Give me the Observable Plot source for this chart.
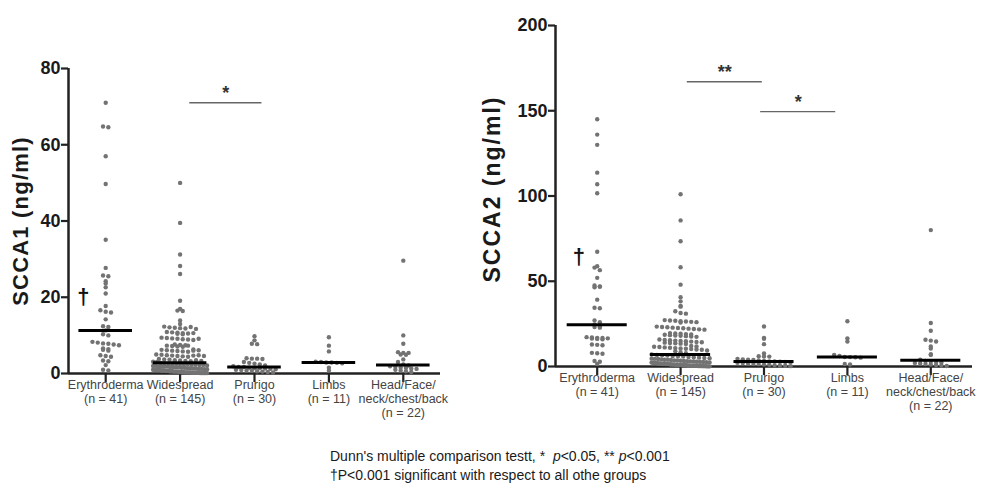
<!DOCTYPE html>
<html><head><meta charset="utf-8">
<script src="https://cdn.jsdelivr.net/npm/d3@7"></script>
<script src="https://cdn.jsdelivr.net/npm/@observablehq/plot@0.6"></script>
<style>
html,body{margin:0;padding:0;background:#fff;}
#wrap{position:relative;width:1002px;height:499px;overflow:hidden;font-family:"Liberation Sans",Arial,sans-serif;}
#left{position:absolute;left:0;top:0;width:460px;}
#right{position:absolute;left:470px;top:0;width:532px;}
#note{position:absolute;left:330px;top:447px;font-size:14px;line-height:19px;color:#1a1a1a;white-space:nowrap;}
#wrap svg g[aria-label^="y-axis"] text{font-family:"Liberation Sans",Arial,sans-serif;font-weight:bold;font-size:18px;fill:#1a1a1a;}
#wrap svg g[aria-label^="y-axis"] line,#wrap svg g[aria-label^="y-axis"] path,
#wrap svg g[aria-label^="x-axis"] line,#wrap svg g[aria-label^="x-axis"] path{stroke-width:2.2px;stroke:#222;}
</style>
</head><body>
<div id="wrap">
  <div id="left"></div>
  <div id="right"></div>
  <div id="note">Dunn's multiple comparison testt, *&nbsp;&nbsp;<i>p</i>&lt;0.05, ** <i>p</i>&lt;0.001<br>†P&lt;0.001 significant with respect to all othe groups</div>
</div>
<script>
// ---------- categories ----------
const categories = ["Erythroderma", "Widespread", "Prurigo", "Limbs", "Head/Face/\nneck/chest/back"];
const groupN = [41, 145, 30, 11, 22];
const yTicks1 = [0, 20, 40, 60, 80];
const yTicks2 = [0, 50, 100, 150, 200];

// ---------- SCCA1 (ng/ml) ----------
const scca1Erythroderma = [71, 64.8, 64.6, 57, 49.7, 35.1, 27.7, 25.7, 25.5, 24.2, 23.6, 22.6, 21.0, 17.7, 16.6, 16.2, 16.0, 14.2, 12.4, 12.2,
  11.3,
  10.3, 10.0, 8.3, 8.1, 7.9, 7.8, 7.6, 7.4, 6.6, 6.4, 6.2, 6.0, 4.8, 4.6, 4.4, 3.4, 3.2, 2.2, 1.0, 0.8];
const scca1Widespread = [50.0, 39.5, 31.2, 28.2, 26.1, 19.1, 16.9, 16.5, 16.4, 13.9, 13.0,
  12.3, 12.1, 12.0, 11.9, 11.8, 12.2, 11.7,
  10.9, 10.8, 10.7, 10.6, 10.5, 10.4, 10.3, 10.6,
  9.4, 9.3, 9.2, 9.1, 9.0, 8.9, 8.8, 9.1,
  7.6, 7.5, 7.4, 7.3, 7.2, 7.1, 7.0, 7.3,
  6.3, 6.2, 6.1, 6.0, 5.9, 5.8, 5.7, 6.0, 6.1,
  5.0, 4.9, 4.8, 4.7, 4.6, 4.5, 4.4, 4.7, 4.8, 4.6,
  3.8, 3.7, 3.6, 3.5, 3.4, 3.3, 3.2, 3.1, 3.0, 3.5, 3.3,
  2.8,
  2.7, 2.6, 2.6, 2.5, 2.5, 2.4, 2.4, 2.3, 2.3, 2.2, 2.2, 2.1,
  2.0, 2.0, 1.9, 1.9, 1.8, 1.8, 1.7, 1.7, 1.6, 1.6, 1.5, 1.5,
  1.4, 1.4, 1.3, 1.3, 1.2, 1.2, 1.1, 1.1, 1.0, 1.0, 1.0, 0.9,
  0.9, 0.9, 0.8, 0.8, 0.8, 0.7, 0.7, 0.7, 0.6, 0.6, 0.6, 0.5,
  0.5, 0.5, 0.5, 0.4, 0.4, 0.4, 0.4, 0.3, 0.3, 0.3, 0.3, 0.3,
  0.2, 0.2, 0.2, 0.2, 0.2, 0.2, 0.1, 0.1, 0.1, 0.1, 0.1, 0.1];
const scca1Prurigo = [9.8, 8.7, 7.8, 7.7, 4.0, 3.9, 3.9, 3.8, 3.0, 2.8, 2.6, 2.4, 2.1, 1.9,
  1.7, 1.7,
  1.5, 1.4, 1.4, 1.3, 1.2, 1.1, 1.0, 0.9, 0.8, 0.7, 0.6, 0.5, 0.4, 0.3];
const scca1Limbs = [9.5, 7.3, 5.8, 3.1, 3.0, 2.9, 2.9, 2.8, 2.7, 1.5, 0.8];
const scca1Head = [29.6, 10.0, 7.8, 5.6, 5.4, 5.4, 5.0, 4.9, 3.7, 3.0, 2.4, 2.1, 1.9, 1.8, 1.6, 1.5, 1.3, 1.2, 1.0, 0.8, 0.6, 0.4];

// ---------- SCCA2 (ng/ml) ----------
const scca2Erythroderma = [145, 136, 130, 113.7, 106.9, 101.6, 67.3, 58.8, 58.0, 56.5, 52, 47.5, 47, 46.5, 46.8, 39.2, 34.5, 34.2, 27, 26,
  24.5,
  23.5, 23.2, 22.8, 17.2, 17, 16.8, 16.7, 16.5, 16.4, 16.2, 16.0, 12.9, 12.7, 12.5, 8.0, 7.8, 7.5, 3.2, 2.8, 1.5];
const scca2Widespread = [101, 85.7, 73.5, 58.2, 48, 40.6, 38.2, 35.5, 35.1, 32.4, 31.4, 31.0,
  27.2, 27, 26.8, 26.6, 26.4, 26.2, 26, 25.8,
  23.4, 23.2, 23, 22.8, 22.6, 22.4, 22.2, 22, 21.8, 21.6,
  19.6, 19.4, 19.2, 19, 18.8, 18.6, 18.4, 18.2, 18, 17.8, 17.6, 17.4,
  15.8, 15.6, 15.4, 15.2, 15, 14.8, 14.6, 14.4, 14.2, 14, 13.8, 13.6, 13.4, 13.2,
  12.0, 11.8, 11.6, 11.4, 11.2, 11, 10.8, 10.6, 10.4, 10.2, 10, 9.8, 9.4, 9, 8.4, 7.8,
  7.0,
  6.8, 6.6, 6.4, 6.2, 6.0, 5.8, 5.6, 5.4, 5.2, 5.0, 4.8, 4.6,
  4.5, 4.4, 4.2, 4.0, 3.9, 3.8, 3.6, 3.5, 3.4, 3.2, 3.1, 3.0,
  2.9, 2.8, 2.7, 2.6, 2.5, 2.4, 2.3, 2.2, 2.1, 2.0, 1.9, 1.8,
  1.8, 1.7, 1.6, 1.6, 1.5, 1.4, 1.4, 1.3, 1.2, 1.2, 1.1, 1.0,
  1.0, 0.9, 0.9, 0.8, 0.8, 0.7, 0.7, 0.6, 0.6, 0.5, 0.5, 0.5,
  0.4, 0.4, 0.4, 0.3, 0.3, 0.3, 0.2, 0.2, 0.2, 0.1, 0.1, 0.1];
const scca2Prurigo = [23.5, 16.8, 16.3, 13.1, 7.6, 6.0, 5.9, 5.8, 4.5, 4.2, 4.0, 3.8, 3.6, 3.3,
  3.0, 3.0,
  2.8, 2.6, 2.4, 2.2, 2.0, 1.8, 1.6, 1.4, 1.2, 1.0, 0.8, 0.6, 0.4, 0.2];
const scca2Limbs = [26.5, 16.5, 14.7, 6.8, 6.2, 5.6, 5.5, 5.4, 5.2, 1.5, 1.2];
const scca2Head = [80, 25.5, 21, 15.7, 15.2, 14.7, 11.8, 10.6, 7.2, 6.8, 4.0, 3.2, 3.0, 2.7, 2.4, 2.1, 1.8, 1.5, 1.2, 0.9, 0.6, 0.3];

// significance annotations (group index span, height in data units)
const sig1 = [{from: 1.13, to: 2.1, y: 71, label: "*"}];
const sig2 = [{from: 1.08, to: 1.98, y: 167, label: "**"}, {from: 1.96, to: 2.86, y: 149.5, label: "*"}];

// ---------- helpers ----------
// GraphPad-like scatter: values binned into rows, each row spread symmetrically
function swarm(vals, idx, pxX, pxY, binH, spacing, maxW) {
  const bins = d3.group(vals, v => Math.floor(v * pxY / binH));
  const out = [];
  for (const [, vs] of bins) {
    const n = vs.length;
    const sp = n > 1 ? Math.min(spacing, maxW / (n - 1)) : 0;
    vs.forEach((v, j) => out.push({group: idx, value: v, x: idx + ((j - (n - 1) / 2) * sp) / pxX}));
  }
  return out;
}

function panel(cfg) {
  const {groups, yDomain, yTicks, yTitle, width, height, marginLeft, marginRight, marginTop, marginBottom, sig, dagger, titleDx, titleDy, titleSize, titleSpacing, maxW} = cfg;
  const pxX = (width - marginLeft - marginRight) / categories.length;
  const pxY = (height - marginTop - marginBottom) / (yDomain[1] - yDomain[0]);
  const points = groups.flatMap((g, i) => swarm(g, i, pxX, pxY, 4, 5.3, maxW));
  const medians = groups.map((g, i) => ({i, m: d3.median(g)}));
  const labels = categories.map((c, i) => ({i, t: c + "\n(n = " + groupN[i] + ")"}));
  const xDom = [-0.5, categories.length - 0.5];
  const svg = Plot.plot({
    width, height, marginLeft, marginRight, marginTop, marginBottom,
    style: {fontFamily: "Liberation Sans, Arial, sans-serif", overflow: "visible", background: "transparent"},
    x: {domain: xDom, ticks: d3.range(categories.length), tickSize: 9, tickFormat: () => "", label: null},
    y: {domain: yDomain, ticks: yTicks, tickSize: 7, tickPadding: 1, tickFormat: d => String(d), label: null},
    marks: [
      Plot.ruleX([xDom[0]], {y1: yDomain[0], y2: yDomain[1], stroke: "#222", strokeWidth: 2.5}),
      Plot.ruleY([yDomain[0]], {x1: xDom[0], x2: xDom[1], stroke: "#222", strokeWidth: 2.5}),
      Plot.dot(points, {x: "x", y: "value", r: 2.2, fill: "#737373", stroke: "none"}),
      Plot.ruleY(medians, {x1: d => d.i - 0.36, x2: d => d.i + 0.36, y: "m", stroke: "#000", strokeWidth: 3}),
      Plot.ruleY(sig, {x1: "from", x2: "to", y: "y", stroke: "#666", strokeWidth: 1.4}),
      Plot.text(sig, {x: d => (d.from + d.to) / 2, y: "y", text: "label", lineAnchor: "bottom", dy: -4, fontSize: 18, fontWeight: "bold", fill: "#333"}),
      Plot.text([dagger], {x: "x", y: "y", text: () => "†", lineAnchor: "middle", fontSize: 22, fontWeight: "bold", fill: "#111"}),
      Plot.text(labels, {x: "i", y: () => yDomain[0], text: "t", lineAnchor: "top", dy: 6, fontSize: 12.5, lineHeight: 1.12, fontFamily: "Liberation Sans, Arial, sans-serif", fill: "#444"}),
      Plot.text([yTitle], {frameAnchor: "left", textAnchor: "middle", dx: titleDx, dy: titleDy, rotate: -90, fontSize: titleSize, fontWeight: "bold", fill: "#1a1a1a"})
    ]
  });
  d3.select(svg).selectAll("text").filter(function() { return this.textContent === yTitle; })
    .style("letter-spacing", titleSpacing + "px");
  return svg;
}

document.getElementById("left").appendChild(panel({
  groups: [scca1Erythroderma, scca1Widespread, scca1Prurigo, scca1Limbs, scca1Head],
  yDomain: [0, 80], yTicks: yTicks1, yTitle: "SCCA1 (ng/ml)",
  width: 460, height: 430, marginLeft: 68, marginRight: 20, marginTop: 68, marginBottom: 57,
  sig: sig1, dagger: {x: -0.3, y: 20}, titleDx: -48, titleDy: 0, titleSize: 22, titleSpacing: 1.2, maxW: 54
}));
document.getElementById("right").appendChild(panel({
  groups: [scca2Erythroderma, scca2Widespread, scca2Prurigo, scca2Limbs, scca2Head],
  yDomain: [0, 200], yTicks: yTicks2, yTitle: "SCCA2 (ng/ml)",
  width: 532, height: 430, marginLeft: 85, marginRight: 30, marginTop: 25, marginBottom: 64,
  sig: sig2, dagger: {x: -0.22, y: 64}, titleDx: -63, titleDy: -7, titleSize: 23, titleSpacing: 2, maxW: 58
}));
</script>
</body></html>
